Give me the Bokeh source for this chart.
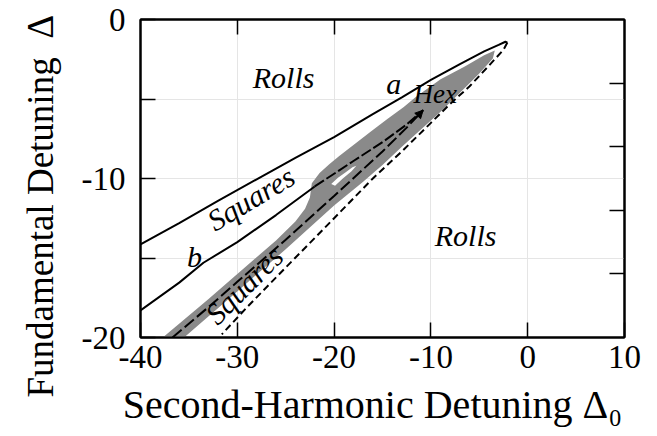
from bokeh.plotting import figure
from bokeh.models import Range1d, LinearAxis, FixedTicker, Label, Arrow, NormalHead, Title
from bokeh.embed import file_html
from bokeh.resources import INLINE

# ---- axis ticks ----
x_ticks = [-40, -30, -20, -10, 0, 10]
x_ticks_top = [-30, -20, -10, 0]
y_ticks_left = [-20, -10, 0]
y_minor_left = [-15, -5]
y_ticks_right = [-16, -12, -8, -4]

# ---- boundary curves (Delta_0, Delta) ----
# curve a: upper solid boundary
a_x = [-40, -36, -32, -28, -24, -20, -16, -13, -10, -7, -4.5, -3, -2.3, -2.1]
a_y = [-14.15, -12.8, -11.4, -10.05, -8.7, -7.4, -5.95, -4.9, -3.8, -2.8, -2.0, -1.6, -1.4, -1.45]
# curve b: middle solid boundary
b_x = [-40, -36, -33.5, -30, -26, -22]
b_y = [-18.3, -16.55, -15.3, -14.0, -12.3, -10.5]
# continuation of b inside the shaded region
b2_x = [-22, -18, -14.85, -12.5, -10.8]
b2_y = [-10.5, -8.9, -7.65, -6.6, -5.7]
# long-dashed line in the shaded band
d_x = [-36.7, -33, -30, -25, -20, -15, -12.5, -10.8]
d_y = [-20, -18.1, -16.5, -13.85, -11.1, -8.3, -6.8, -5.7]
# outer short-dashed boundary
o_x = [-2.1, -2.5, -4, -6, -8, -10, -13, -16, -20, -25, -29, -31.6]
o_y = [-1.45, -1.9, -2.9, -4.2, -5.3, -6.5, -8.3, -10.0, -12.5, -15.6, -18.1, -19.8]
# shaded (gray) region: band top edge, blob over curve b, tip, outer edge
g_x = [-37.7, -33, -30, -26, -24, -23, -22.5, -22.3, -21.5, -20.5, -19.5, -18, -16.2,
       -14.5, -12.8, -11.5, -9, -6.5, -4.5, -3.4,
       -3.6, -5, -7, -9, -11, -13, -15, -17, -20, -25, -30, -35.5]
g_y = [-20, -17.6, -16.0, -13.9, -12.7, -11.9, -11.2, -10.3, -9.65, -9.1, -8.6, -7.9, -7.05,
       -6.25, -5.5, -4.85, -3.75, -2.95, -2.25, -1.95,
       -2.45, -3.4, -4.6, -5.8, -6.9, -8.0, -9.15, -10.2, -11.7, -14.45, -17.1, -20]
# white notch (island) inside shaded region
n_x = [-20.3, -19.6, -18.8, -18.1, -17.7, -18.2, -19.1, -19.9]
n_y = [-10.35, -9.95, -9.6, -9.3, -9.2, -9.55, -10.0, -10.45]

# ---- region labels ----
lab_text = ["Rolls", "Rolls", "a", "Hex", "b"]
lab_x = [-28.4, -9.6, -14.6, -11.8, -35.2]
lab_y = [-3.65, -13.6, -4.05, -4.7, -14.9]
sq_x = [-28.6, -29.3]
sq_y = [-11.25, -16.7]
sq_angle = [31, 45]

SERIF = "Liberation Serif"

p = figure(width=657, height=436,
           x_range=Range1d(-40, 10), y_range=Range1d(-20, 0),
           output_backend="svg", toolbar_location=None,
           x_axis_location=None, y_axis_location=None,
           min_border_left=133, min_border_right=33,
           min_border_top=19, min_border_bottom=99)
p.background_fill_color = "white"
p.border_fill_color = "white"
p.outline_line_color = "black"
p.outline_line_width = 2


def style_axis(ax, ticks, labels=True, standoff=6):
    ax.axis_line_color = "black"
    ax.axis_line_width = 2
    ax.major_tick_in = 15
    ax.major_tick_out = 0
    ax.minor_tick_in = 15
    ax.minor_tick_out = 0
    ax.major_tick_line_width = 1.5
    ax.minor_tick_line_width = 1.5
    ax.major_tick_line_color = "black"
    ax.minor_tick_line_color = "black"
    ax.major_label_text_font = SERIF
    ax.major_label_text_color = "black"
    if labels:
        ax.major_label_text_font_size = "33px"
        ax.major_label_standoff = standoff
        ax.major_label_overrides = {t: str(t) for t in ticks}
    else:
        ax.major_label_text_font_size = "0px"
        ax.major_label_text_alpha = 0
        ax.major_label_standoff = 0


bottom = LinearAxis(ticker=FixedTicker(ticks=x_ticks, minor_ticks=[]))
style_axis(bottom, x_ticks, True, 8)
bottom.axis_label = "Second-Harmonic Detuning \u0394\u2080\u00a0\u00a0"
bottom.axis_label_text_font = SERIF
bottom.axis_label_text_font_style = "normal"
bottom.axis_label_text_font_size = "40px"
bottom.axis_label_text_color = "black"
bottom.axis_label_standoff = 11
p.add_layout(bottom, "below")

top = LinearAxis(ticker=FixedTicker(ticks=x_ticks_top, minor_ticks=[]))
style_axis(top, x_ticks_top, False)
p.add_layout(top, "above")

left = LinearAxis(ticker=FixedTicker(ticks=y_ticks_left, minor_ticks=y_minor_left))
style_axis(left, y_ticks_left, True, 15)
p.add_layout(left, "left")

right = LinearAxis(ticker=FixedTicker(ticks=y_ticks_right, minor_ticks=[]))
style_axis(right, y_ticks_right, False)
p.add_layout(right, "right")

ytitle = Title(text="Fundamental Detuning\u00a0 \u0394", align="left", offset=-60,
               standoff=35, text_font=SERIF, text_font_size="37px",
               text_font_style="normal", text_color="black")
p.add_layout(ytitle, "left")

# shaded region with its white notch
p.patch(g_x, g_y, fill_color="#8a8a8a", line_color=None)
p.patch(n_x, n_y, fill_color="white", line_color=None)

# boundary lines
p.line(a_x, a_y, line_color="black", line_width=2)
p.line(b_x, b_y, line_color="black", line_width=2)
p.line(b2_x, b2_y, line_color="black", line_width=2, line_dash="11 3")
p.line(d_x, d_y, line_color="black", line_width=2, line_dash="12 4")
p.line(o_x, o_y, line_color="black", line_width=2, line_dash="7 4")
p.add_layout(Arrow(end=NormalHead(size=8, fill_color="black", line_color="black"),
                   x_start=d_x[-2], y_start=d_y[-2], x_end=d_x[-1], y_end=d_y[-1],
                   line_alpha=0))

for t, x, y in zip(lab_text, lab_x, lab_y):
    p.add_layout(Label(x=x, y=y, text=t, text_font=SERIF, text_font_style="italic",
                       text_font_size="30px" if t != "Hex" else "27px",
                       text_color="black", text_baseline="alphabetic"))
for x, y, ang in zip(sq_x, sq_y, sq_angle):
    p.add_layout(Label(x=x, y=y, text="Squares", text_font=SERIF, text_font_style="italic",
                       text_font_size="30px", text_color="black", angle=ang, angle_units="deg",
                       text_align="center", text_baseline="middle"))

open("out.html", "w").write(file_html(p, INLINE))
